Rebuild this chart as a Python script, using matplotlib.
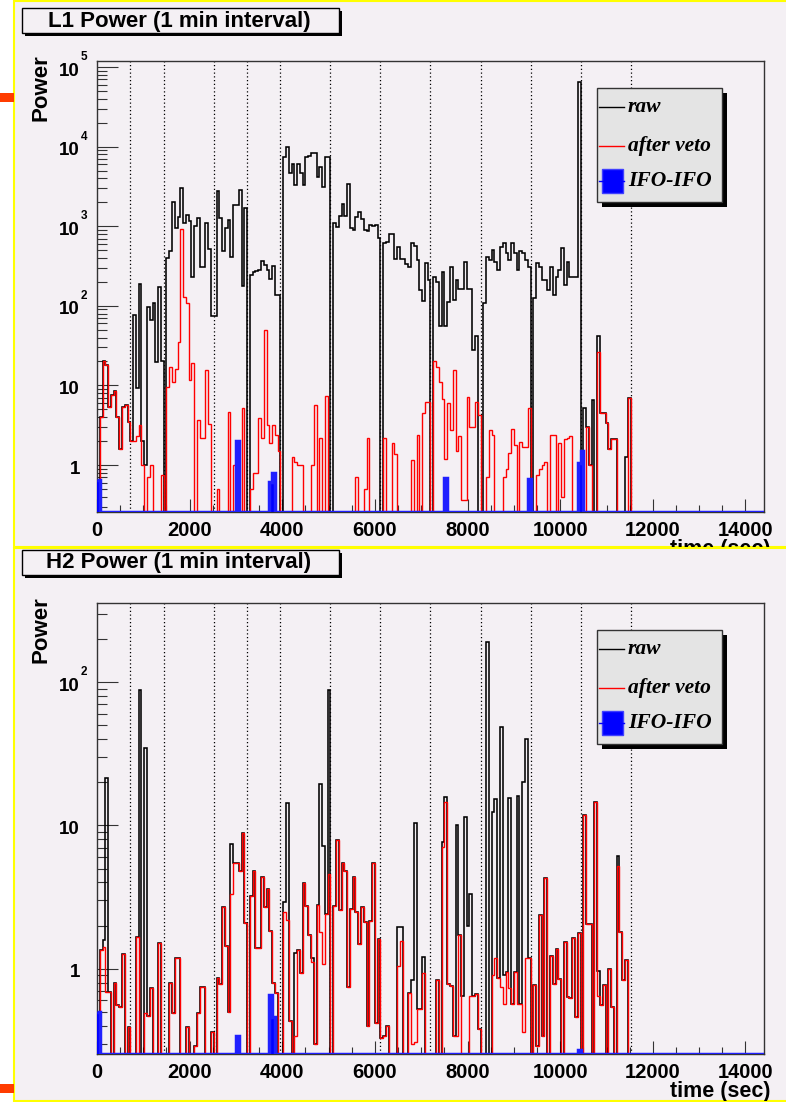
import numpy as np
import matplotlib
matplotlib.use("Agg")
import matplotlib.pyplot as plt
import matplotlib.transforms as mtransforms
from matplotlib.patches import Rectangle
from matplotlib.lines import Line2D
from matplotlib.ticker import LogLocator, MultipleLocator, NullFormatter

# 1 minute bins over 4 hours
BIN_SEC = 60
N_BINS = 240

# lock segment boundaries (sec)
segment_edges = [720, 1440, 2520, 3240, 3960, 5040, 6120, 7200, 8280, 9360, 10440, 11520]

l1_raw = [
    0, 4, 20, 18, 5.4, 7.6, 8.5, 4, 1.6, 5.4, 5.7, 3.5,
    2, 76, 9.2, 186, 2, 1, 96, 66, 108, 19.5, 174, 20,
    0, 395, 490, 2000, 940, 1290, 3000, 1090, 1370, 1170, 228, 1000,
    1260, 310, 310, 1110, 520, 75, 75, 2800, 1260, 490, 940, 1190,
    405, 1850, 1850, 2850, 180, 1700, 0, 245, 265, 270, 280, 370,
    325, 280, 215, 320, 137, 137, 0, 7450, 10000, 4600, 6000, 3300,
    6000, 4600, 3300, 7450, 7700, 8200, 8200, 4100, 5500, 3100, 7300, 7300,
    0, 1110, 985, 1350, 1880, 1340, 3400, 940, 900, 1290, 1520, 1230,
    900, 860, 1050, 1000, 1050, 720, 0, 610, 640, 800, 800, 390,
    545, 390, 385, 335, 305, 610, 560, 375, 158, 116, 345, 210,
    0, 228, 200, 55, 265, 55, 113, 305, 120, 210, 165, 165,
    360, 165, 165, 28, 42, 0, 0, 107, 415, 375, 500, 360,
    280, 550, 610, 460, 375, 610, 460, 280, 490, 460, 375, 310,
    0, 124, 345, 305, 210, 210, 158, 305, 137, 230, 280, 525,
    185, 360, 228, 228, 228, 65000, 0, 5.2, 3, 1, 6.6, 0,
    42, 4.5, 4.5, 3.4, 1.6, 2.1, 2.1, 0, 0, 0, 1.26, 7,
]
l1_veto = [
    0, 4, 20, 18, 5.4, 7.6, 8.5, 4, 1.6, 5.4, 5.7, 3.5,
    2, 2, 2.3, 3.2, 1.0, 0, 0.7, 1.0, 0, 0, 0, 0.75,
    0, 9.6, 17, 11, 16, 35, 910, 130, 108, 11.7, 19, 0,
    3.7, 2.2, 2.2, 15.6, 3.3, 0, 0, 0.5, 0, 0, 0, 4.7,
    0, 1, 0, 0, 5.2, 0, 0, 0.5, 0.8, 0.8, 3.9, 2.2,
    49, 3.2, 1.9, 3.2, 2.4, 1.5, 0, 0, 0, 0, 1.27, 1.1,
    1.0, 1.0, 0, 0, 0, 1.0, 5.7, 0, 2.2, 0, 7.4, 0,
    0, 0, 0, 0, 0, 0, 0, 0, 0, 0.7, 0, 0,
    0.5, 2.2, 0, 0, 0, 0, 0, 2.2, 0, 0, 1.9, 1.36,
    0, 0, 0, 0, 0, 1.15, 0, 2.4, 0, 4.5, 6.2, 6.2,
    0, 20, 17, 11, 6.7, 1.2, 6, 2.75, 15.6, 1.5, 2.3, 0.36,
    0.36, 7.1, 3, 3, 6.2, 4.3, 0, 0, 0.7, 2.75, 2.4, 0,
    0, 0, 0.7, 0.9, 1.4, 2.8, 1.8, 0, 1.97, 1.7, 1.7, 5.2,
    0, 0, 0.75, 0.9, 1.0, 1.1, 0, 2.4, 2.4, 0, 1.9, 0.4,
    2.1, 2.2, 2.3, 0, 0, 0, 0, 0, 3, 1, 0, 0,
    26, 4.5, 4.5, 3.4, 1.6, 2.1, 2.1, 0, 0, 0, 0, 7,
]
l1_ifo_bins = [0, 50, 62, 63, 125, 155, 173, 174]
l1_ifo = [0.64, 2.0, 0.62, 0.79, 0.68, 0.66, 1.07, 1.5]

h2_raw = [
    0, 1.34, 1.59, 21.6, 0.69, 0, 0.79, 0.56, 0.54, 1.26, 0, 0.39,
    0, 0, 1.67, 89, 0, 34.6, 0.47, 0.73, 0, 0, 1.5, 0,
    0, 0, 0.79, 0.49, 1.19, 1.19, 0, 0, 0.39, 0, 0, 0.29,
    0.49, 0.75, 0.75, 0, 0, 0.36, 0, 0.86, 0.78, 2.7, 1.44, 0.5,
    7.4, 5.5, 5.5, 4.8, 8.8, 2.1, 0, 3.2, 4.8, 1.39, 1.39, 4.4,
    2.7, 3.6, 1.83, 0.79, 0.68, 0, 0, 2.9, 14.3, 0.43, 0, 1.29,
    1.36, 0.93, 3.95, 2.74, 1.72, 1.18, 0.3, 2.8, 19.5, 7.2, 2.4, 89,
    0, 2.74, 7.9, 2.56, 5.5, 4.8, 0.75, 2.6, 4.4, 2.47, 1.48, 2.7,
    2.13, 0.4, 2.16, 5.5, 0.42, 1.61, 0.33, 0.34, 0.4, 0, 0, 0,
    1.96, 1.96, 0, 0, 0.68, 0.84, 10.4, 0.52, 0.52, 1.21, 0, 0,
    0, 0, 0.83, 0, 7.7, 15.8, 0.78, 0.76, 0.34, 10, 1.72, 0.64,
    11.5, 2.0, 3.3, 0.64, 0.67, 0.38, 0, 0, 190, 0, 12.5, 15.3,
    0.86, 49, 0.9, 0.95, 15.6, 0.57, 0.95, 16, 0.57, 20, 40, 1.18,
    0, 0.77, 0.29, 2.37, 0.34, 4.3, 0, 1.23, 0.78, 1.37, 0.85, 0,
    1.54, 0.63, 0.62, 1.65, 0.46, 1.78, 0, 11.8, 2.04, 2.04, 0, 14.5,
    0.97, 0.56, 0.77, 0, 1.0, 0.54, 0, 6.1, 1.8, 0.83, 1.15, 0,
]
h2_veto = [
    0, 1.34, 1.42, 0.69, 0.69, 0, 0.79, 0.56, 0.54, 1.26, 0, 0.39,
    0, 0, 1.67, 0, 0, 0.49, 0.47, 0.73, 0, 0, 1.5, 0,
    0, 0, 0.79, 0.49, 1.19, 1.19, 0, 0, 0.39, 0, 0, 0.29,
    0.49, 0.75, 0.75, 0, 0, 0.36, 0, 0.86, 0.78, 2.7, 1.44, 0.5,
    3.3, 5.5, 5.5, 4.8, 8.8, 2.1, 0, 3.2, 4.8, 1.39, 1.39, 4.4,
    2.7, 3.6, 1.83, 0.79, 0.68, 0, 0, 2.5, 2.2, 0.43, 0, 0.34,
    1.36, 0.93, 3.95, 2.74, 1.72, 1.12, 0.3, 2.8, 1.8, 1.08, 2.4, 4.6,
    0, 2.74, 7.9, 2.56, 5.5, 4.8, 0.75, 2.6, 4.4, 2.47, 1.48, 2.7,
    2.13, 0.4, 2.16, 5.5, 0.42, 1.61, 0.33, 0.34, 0.4, 0, 0, 0,
    1.04, 1.56, 0, 0, 0.68, 0.3, 0.31, 0.52, 0.52, 0.93, 0, 0,
    0, 0, 0.83, 0, 7.1, 14.5, 0.78, 0.76, 0.34, 0.34, 1.72, 0,
    0, 0, 0.64, 0.64, 0.67, 0.38, 0, 0, 0, 0, 0.9, 1.18,
    0.86, 0.75, 0.57, 0.95, 0.73, 0.57, 0.95, 0.57, 0.57, 0.36, 1.18, 1.18,
    0, 0.77, 0.29, 2.37, 0.34, 4.3, 0, 1.23, 0.78, 1.37, 0.85, 0,
    1.54, 0.63, 0.62, 1.65, 0.46, 1.78, 0, 11.8, 2.04, 2.04, 0, 14.5,
    0.64, 0.56, 0.77, 0, 1.0, 0.54, 0, 5.2, 1.8, 0.83, 1.15, 0,
]
h2_ifo_bins = [0, 50, 62, 63, 173]
h2_ifo = [0.5, 0.34, 0.66, 0.46, 0.27]

x_ticks = [0, 2000, 4000, 6000, 8000, 10000, 12000, 14000]
l1_yticks = [1, 10, 100, 1000, 10000, 100000]
h2_yticks = [1, 10, 100]

W, H = 786, 1102
PAD_COLOR = "#f4f0f4"
LEGEND_FILL = "#e4e4e4"
FRAME = "#333333"

plt.rcParams["font.family"] = ["Liberation Sans", "DejaVu Sans"]
plt.rcParams["font.weight"] = "bold"

fig = plt.figure(figsize=(W / 100, H / 100), dpi=100)
fig.patch.set_facecolor("white")


def fx(x):
    return x / W


def fy(y):
    return 1 - y / H


def box(x0, y0, x1, y1, **kw):
    r = Rectangle((fx(x0), fy(y1)), (x1 - x0) / W, (y1 - y0) / H,
                  transform=fig.transFigure, **kw)
    fig.add_artist(r)
    return r


def full(vals):
    out = np.zeros(N_BINS)
    out[:len(vals)] = vals
    return out


def draw_panel(dy, title, raw, veto, ifo_bins, ifo_vals, ylim, yticks, pad_box):
    ymin, ymax = ylim
    edges = np.arange(N_BINS + 1) * BIN_SEC

    ax = fig.add_axes([fx(97), fy(512 + dy), 667 / W, 451 / H])
    ax.set_facecolor(PAD_COLOR)
    ax.set_yscale("log")
    ax.set_xlim(0, N_BINS * BIN_SEC)
    ax.set_ylim(ymin, ymax)
    for s in ax.spines.values():
        s.set_color(FRAME)
        s.set_linewidth(1)

    for t in segment_edges:
        ax.axvline(t, color="black", lw=0.9, ls=(0, (1, 2)), zorder=1.5)

    ax.stairs(np.clip(full(raw), ymin, None), edges, baseline=None,
              color="black", lw=1.15, zorder=2)
    ax.stairs(np.clip(full(veto), ymin, None), edges, baseline=None,
              color="red", lw=1.0, zorder=2.2)

    ifo = np.zeros(N_BINS)
    ifo[ifo_bins] = ifo_vals
    ifo = np.clip(ifo, ymin, None)
    ax.stairs(ifo, edges, baseline=ymin, fill=True, color="blue", zorder=3)
    ax.stairs(ifo, edges, baseline=None, color="#2020ff", lw=2.5, zorder=3)

    # x axis: ticks pointing up from the bottom frame
    ax.set_xticks(x_ticks)
    ax.xaxis.set_minor_locator(MultipleLocator(500))
    ax.tick_params(axis="x", which="major", direction="in", length=9.5,
                   width=0.8, color=FRAME, labelsize=14.5, pad=6.5, top=False)
    ax.tick_params(axis="x", which="minor", direction="in", length=5,
                   width=0.8, color=FRAME, top=False)

    # y axis: log ticks, labels drawn by hand as 10 + exponent
    ax.yaxis.set_major_locator(LogLocator(base=10, numticks=20))
    ax.yaxis.set_minor_locator(LogLocator(base=10, subs=np.arange(2, 10), numticks=20))
    ax.yaxis.set_minor_formatter(NullFormatter())
    ax.tick_params(axis="y", which="major", direction="in", length=15,
                   width=0.8, color=FRAME, labelleft=False, right=False)
    ax.tick_params(axis="y", which="minor", direction="in", length=7.5,
                   width=0.8, color=FRAME, right=False)

    ytr = ax.get_yaxis_transform()
    base_tr = mtransforms.offset_copy(ytr, fig=fig, y=-4, units="dots")
    exp_tr = mtransforms.offset_copy(ytr, fig=fig, y=10, units="dots")
    for v in yticks:
        k = int(round(np.log10(v)))
        ax.text(-17 / 667, v, "1" if k == 0 else "10", transform=base_tr,
                ha="right", va="center", fontsize=13.5)
        if k > 1:
            ax.text(-16 / 667, v, str(k), transform=exp_tr,
                    ha="left", va="center", fontsize=8.5)

    # title box with drop shadow
    box(24.5, 10.5 + dy, 341.5, 35.5 + dy, facecolor="black", edgecolor="none", zorder=1)
    box(22, 8 + dy, 339, 33 + dy, facecolor=PAD_COLOR, edgecolor="black", lw=1, zorder=1.1)
    fig.text(fx(179), fy(21 + dy), title, ha="center", va="center", fontsize=16, zorder=1.2)

    fig.text(fx(41), fy(88 + dy), "Power", rotation=90, ha="center", va="center", fontsize=16)

    # axis title sits low, the pad edge cuts it off
    xl = fig.text(fx(770), fy(550 + dy), "time (sec)", ha="right", va="center", fontsize=15.5)
    xl.set_clip_box(mtransforms.TransformedBbox(
        mtransforms.Bbox([[0, fy(pad_box[1])], [1, fy(pad_box[0])]]), fig.transFigure))
    xl.set_clip_on(True)

    # legend
    lx0, lx1, ly0, ly1 = 597, 722, 88 + dy, 202 + dy
    box(lx0 + 5, ly0 + 5, lx1 + 5, ly1 + 5, facecolor="black", edgecolor="none", zorder=5)
    box(lx0, ly0, lx1, ly1, facecolor=LEGEND_FILL, edgecolor=FRAME, lw=1, zorder=6)
    entries = [("raw", "black", 18.5), ("after veto", "red", 58), ("IFO-IFO", "blue", 93)]
    for label, color, off in entries:
        yy = ly0 + off
        if label == "IFO-IFO":
            box(602, yy - 12, 623, yy + 12, facecolor="blue", edgecolor="#4040ff", lw=1, zorder=7)
        fig.add_artist(Line2D([fx(599), fx(624)], [fy(yy), fy(yy)], color=color,
                              lw=1, transform=fig.transFigure, zorder=7.5))
        fig.text(fx(628), fy(yy), label, family=["Liberation Serif"], style="italic",
                 weight="bold", fontsize=15.5, ha="left", va="center", zorder=8)
    return ax


# pads with yellow borders
top_pad = (0.75, 546.5)
bottom_pad = (547.5, 1100.5)
box(14, top_pad[0], 790, top_pad[1], facecolor=PAD_COLOR, edgecolor="#ffff00", lw=1.5, zorder=-1)
box(14, bottom_pad[0], 790, bottom_pad[1], facecolor=PAD_COLOR, edgecolor="#ffff00", lw=1.5, zorder=-1)
box(0, 93, 14, 102, facecolor="#ff3c00", edgecolor="none", zorder=-0.5)
box(0, 1084, 14, 1093, facecolor="#ff3c00", edgecolor="none", zorder=-0.5)

draw_panel(0, "L1 Power (1 min interval)", l1_raw, l1_veto, l1_ifo_bins, l1_ifo,
           (0.257, 1.19e5), l1_yticks, top_pad)
draw_panel(542, "H2 Power (1 min interval)", h2_raw, h2_veto, h2_ifo_bins, h2_ifo,
           (0.2536, 358), h2_yticks, bottom_pad)

fig.savefig("out.png", dpi=100, facecolor=fig.get_facecolor())
